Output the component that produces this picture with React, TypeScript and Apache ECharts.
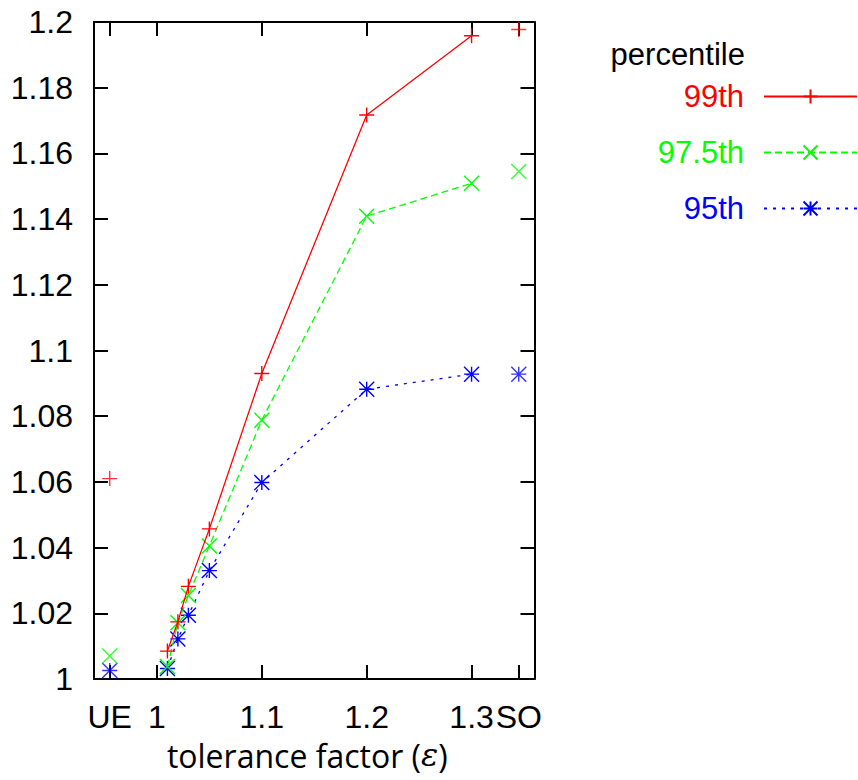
import React, { useEffect, useRef } from "react";
import * as echarts from "echarts";

// x positions of the special "UE" and "SO" columns on the tolerance axis
const UE = 0.955;
const SO = 1.345;
const xTickValues = [UE, 1, 1.1, 1.2, 1.3, SO];
const xTickLabels = ["UE", "1", "1.1", "1.2", "1.3", "SO"];

// tolerance factors of the connected points
const epsilons = [1.01, 1.02, 1.03, 1.05, 1.1, 1.2, 1.3];

// percentile values along the tolerance factors
const p99 = [1.0085, 1.0174, 1.0282, 1.0457, 1.093, 1.1717, 1.1958];
const p975 = [1.0038, 1.0171, 1.0254, 1.0405, 1.0788, 1.1409, 1.1509];
const p95 = [1.0032, 1.0122, 1.0194, 1.033, 1.0598, 1.0882, 1.0928];

// isolated UE and SO values [UE, SO]
const p99Ends = [1.061, 1.1977];
const p975Ends = [1.007, 1.1545];
const p95Ends = [1.0026, 1.0928];

const seriesNames = ["99th", "97.5th", "95th"];
const seriesColors = ["#ff0000", "#00ff00", "#0000ff"];
const seriesDash: any[] = ["solid", [7, 4], [3, 6]];
const seriesSymbols = [
  "path://M0,5L10,5M5,0L5,10",
  "path://M0,0L10,10M10,0L0,10",
  "path://M0,5L10,5M5,0L5,10M0,0L10,10M10,0L0,10",
];
const seriesValues = [p99, p975, p95];
const seriesEnds = [p99Ends, p975Ends, p95Ends];

const yMin = 1;
const yMax = 1.2;
const yStep = 0.02;
const xMin = 0.94;
const xMax = 1.36;

const FONT = "Liberation Sans, Arial, sans-serif";

export default function App() {
  const ref = useRef<HTMLDivElement>(null);
  useEffect(() => {
    if (!ref.current) return;
    const chart = echarts.init(ref.current, null, { renderer: "svg" });

    const series: any[] = [];
    seriesNames.forEach((name, i) => {
      const itemStyle = {
        color: seriesColors[i],
        borderColor: seriesColors[i],
        borderWidth: 1.4,
      };
      series.push({
        type: "line",
        name,
        data: epsilons.map((x, k) => [x, seriesValues[i][k]]),
        symbol: seriesSymbols[i],
        symbolSize: 15,
        showSymbol: true,
        lineStyle: { color: seriesColors[i], width: 1.3, type: seriesDash[i] },
        itemStyle,
        emphasis: { disabled: true },
        z: 3 - i,
      });
      series.push({
        type: "scatter",
        name,
        data: [
          [UE, seriesEnds[i][0]],
          [SO, seriesEnds[i][1]],
        ],
        symbol: seriesSymbols[i],
        symbolSize: 15,
        itemStyle,
        emphasis: { disabled: true },
        z: 3 - i,
      });
    });

    const tickLabel = (v: number) => {
      let best = 0;
      xTickValues.forEach((t, k) => {
        if (Math.abs(t - v) < Math.abs(xTickValues[best] - v)) best = k;
      });
      return xTickLabels[best];
    };

    const axisLine = { show: true, lineStyle: { color: "#000", width: 2 } };
    const axisTick = { show: true, inside: true, length: 14, lineStyle: { color: "#000", width: 2 } };

    chart.setOption({
      animation: false,
      backgroundColor: "#fff",
      grid: {
        left: 94,
        right: 323.5,
        top: 22,
        bottom: 101,
        containLabel: false,
        outerBoundsMode: "none",
      },
      xAxis: [
        {
          type: "value",
          position: "bottom",
          min: xMin,
          max: xMax,
          axisLine,
          axisTick: { ...axisTick, customValues: xTickValues },
          axisLabel: {
            customValues: xTickValues,
            formatter: tickLabel,
            color: "#000",
            fontSize: 32,
            fontFamily: FONT,
            margin: 22,
          },
          splitLine: { show: false },
          name: "tolerance factor ({e|ε})",
          nameLocation: "middle",
          nameGap: 60,
          nameTextStyle: {
            color: "#000",
            fontSize: 32,
            fontFamily: "Open Sans, sans-serif",
            padding: [0, 14, 0, 0],
            rich: {
              e: { fontSize: 32, fontFamily: "DejaVu Serif, serif", fontStyle: "italic", color: "#000" },
            },
          },
        },
        {
          type: "value",
          position: "top",
          min: xMin,
          max: xMax,
          axisLine,
          axisTick: { ...axisTick, customValues: xTickValues },
          axisLabel: { show: false },
          splitLine: { show: false },
        },
      ],
      yAxis: [
        {
          type: "value",
          position: "left",
          min: yMin,
          max: yMax,
          interval: yStep,
          axisLine,
          axisTick,
          axisLabel: {
            color: "#000",
            fontSize: 32,
            fontFamily: FONT,
            margin: 21,
            formatter: (v: number) => String(+v.toFixed(2)),
          },
          splitLine: { show: false },
        },
        {
          type: "value",
          position: "right",
          min: yMin,
          max: yMax,
          interval: yStep,
          axisLine,
          axisTick,
          axisLabel: { show: false },
          splitLine: { show: false },
        },
      ],
      legend: {
        orient: "vertical",
        right: 0,
        top: 81,
        padding: 0,
        align: "right",
        itemWidth: 93,
        itemHeight: 17.5,
        itemGap: 25,
        selectedMode: false,
        textStyle: {
          fontSize: 31,
          lineHeight: 30,
          fontFamily: FONT,
          padding: [0, 15, 0, 0],
        },
        data: seriesNames.map((name, i) => ({
          name,
          textStyle: { color: seriesColors[i] },
        })),
      },
      graphic: [
        {
          type: "text",
          x: 745,
          y: 54,
          style: {
            text: "percentile",
            fill: "#000",
            font: `31px ${FONT}`,
            align: "right",
            verticalAlign: "middle",
          },
        },
      ],
      series,
    });

    return () => chart.dispose();
  }, []);

  return (
    <div
      ref={ref}
      style={{ position: "absolute", left: 0, top: 0, width: 858, height: 780 }}
    />
  );
}
